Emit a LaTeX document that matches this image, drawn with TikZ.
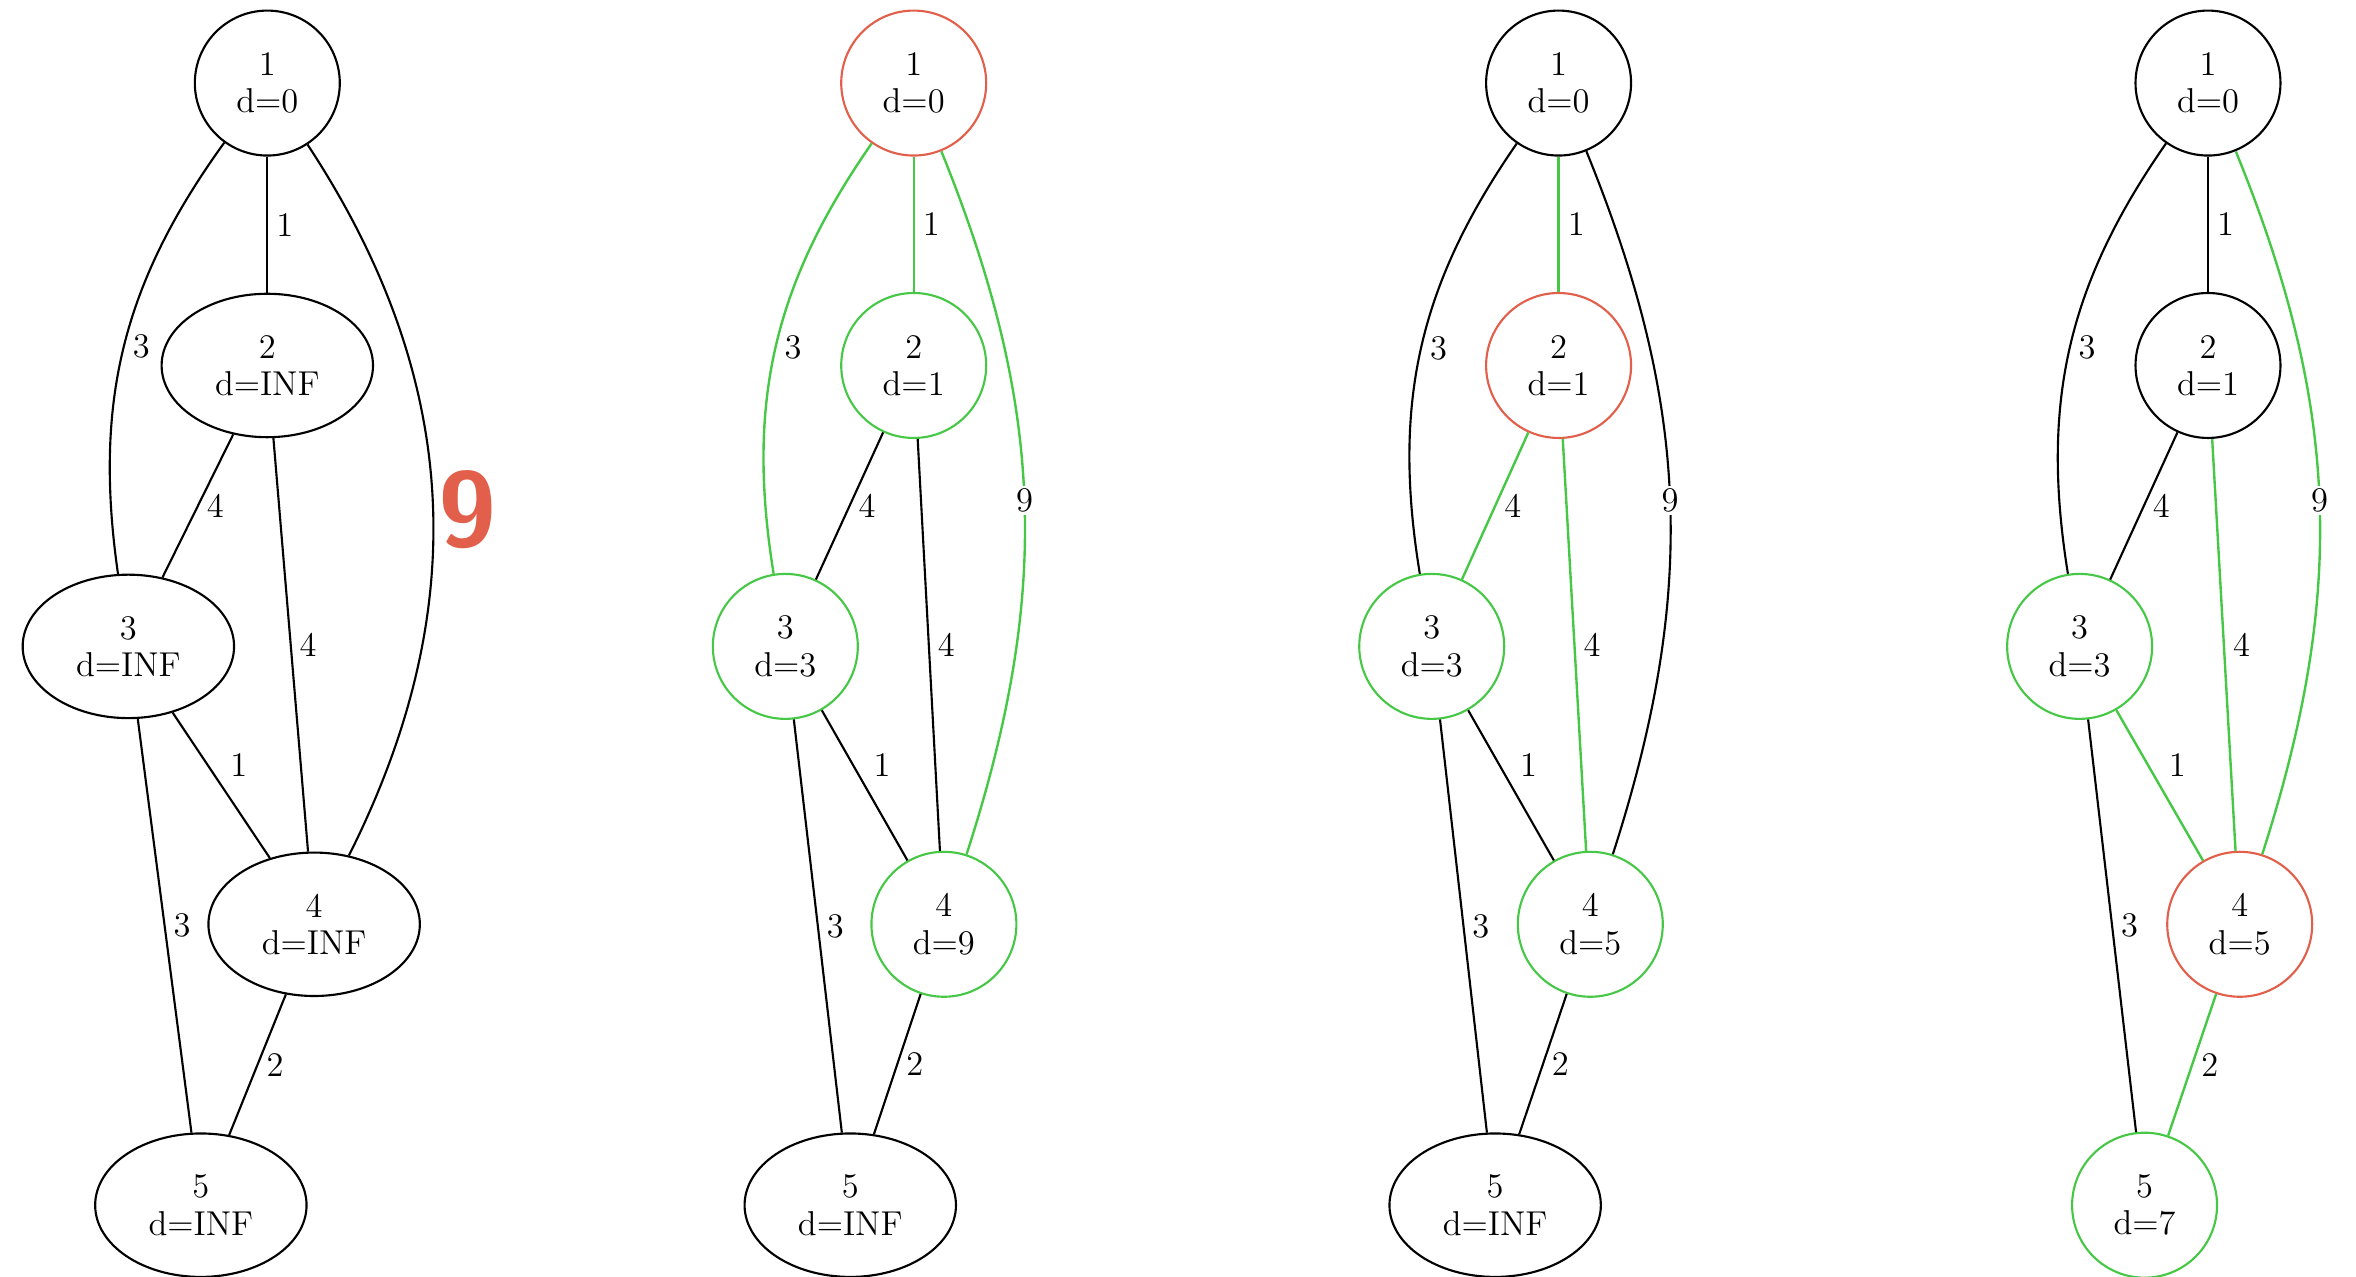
\documentclass[tikz,border=0pt]{standalone}
\usetikzlibrary{shapes.geometric}
\definecolor{gr}{RGB}{70,200,70}
\definecolor{rd}{RGB}{225,95,75}
\begin{document}
\begin{tikzpicture}[x=0.02cm,y=-0.02cm,
  every node/.style={font=\fontsize{13}{14}\selectfont, align=center, inner sep=0pt},
  el/.style={draw, ellipse, minimum width=2.8cm, minimum height=1.9cm, line width=0.8pt},
  ci/.style={draw, circle, minimum size=1.92cm, line width=0.8pt},
  ge/.style={gr, line width=0.9pt},
  be/.style={black, line width=0.8pt},
  lb/.style={right=3pt, midway, text=black},
  lu/.style={above right=3pt, midway, text=black},
  l9/.style={midway, fill=white, inner sep=1pt, text=black}]
\useasboundingbox (0,0) rectangle (1560,845);
% graph 1
\node[ci] (a1) at (177,55) {1\\d=0};
\node[el] (a2) at (177,242) {2\\d=INF};
\node[el] (a3) at (85,428) {3\\d=INF};
\node[el] (a4) at (208,612) {4\\d=INF};
\node[el] (a5) at (133,798) {5\\d=INF};
\draw[be] (a1) -- node[lb]{1} (a2);
\draw[be] (a1) to[bend right=22] node[lb]{3} (a3);
\draw[be] (a1) to[bend left=30] node[right=2pt, midway, yshift=-6pt, text=rd, font=\fontsize{40}{40}\bfseries\sffamily]{9} (a4);
\draw[be] (a2) -- node[lb]{4} (a3);
\draw[be] (a2) -- node[lb]{4} (a4);
\draw[be] (a3) -- node[lu]{1} (a4);
\draw[be] (a3) -- node[lb]{3} (a5);
\draw[be] (a4) -- node[lb]{2} (a5);
% graph 2
\node[ci,rd] (b1) at (605,55) {\color{black}1\\\color{black}d=0};
\node[ci,gr] (b2) at (605,242) {\color{black}2\\\color{black}d=1};
\node[ci,gr] (b3) at (520,428) {\color{black}3\\\color{black}d=3};
\node[ci,gr] (b4) at (625,612) {\color{black}4\\\color{black}d=9};
\node[el] (b5) at (563,798) {5\\d=INF};
\draw[ge] (b1) -- node[lb]{1} (b2);
\draw[ge] (b1) to[bend right=22] node[lb]{3} (b3);
\draw[ge] (b1) to[bend left=20] node[l9]{9} (b4);
\draw[be] (b2) -- node[lb]{4} (b3);
\draw[be] (b2) -- node[lb]{4} (b4);
\draw[be] (b3) -- node[lu]{1} (b4);
\draw[be] (b3) -- node[lb]{3} (b5);
\draw[be] (b4) -- node[lb]{2} (b5);
% graph 3
\node[ci] (c1) at (1032,55) {1\\d=0};
\node[ci,rd] (c2) at (1032,242) {\color{black}2\\\color{black}d=1};
\node[ci,gr] (c3) at (948,428) {\color{black}3\\\color{black}d=3};
\node[ci,gr] (c4) at (1053,612) {\color{black}4\\\color{black}d=5};
\node[el] (c5) at (990,798) {5\\d=INF};
\draw[ge] (c1) -- node[lb]{1} (c2);
\draw[be] (c1) to[bend right=22] node[lb]{3} (c3);
\draw[be] (c1) to[bend left=20] node[l9]{9} (c4);
\draw[ge] (c2) -- node[lb]{4} (c3);
\draw[ge] (c2) -- node[lb]{4} (c4);
\draw[be] (c3) -- node[lu]{1} (c4);
\draw[be] (c3) -- node[lb]{3} (c5);
\draw[be] (c4) -- node[lb]{2} (c5);
% graph 4
\node[ci] (d1) at (1462,55) {1\\d=0};
\node[ci] (d2) at (1462,242) {2\\d=1};
\node[ci,gr] (d3) at (1377,428) {\color{black}3\\\color{black}d=3};
\node[ci,rd] (d4) at (1483,612) {\color{black}4\\\color{black}d=5};
\node[ci,gr] (d5) at (1420,798) {\color{black}5\\\color{black}d=7};
\draw[be] (d1) -- node[lb]{1} (d2);
\draw[be] (d1) to[bend right=22] node[lb]{3} (d3);
\draw[ge] (d1) to[bend left=20] node[l9]{9} (d4);
\draw[be] (d2) -- node[lb]{4} (d3);
\draw[ge] (d2) -- node[lb]{4} (d4);
\draw[ge] (d3) -- node[lu]{1} (d4);
\draw[be] (d3) -- node[lb]{3} (d5);
\draw[ge] (d4) -- node[lb]{2} (d5);
\end{tikzpicture}
\end{document}
